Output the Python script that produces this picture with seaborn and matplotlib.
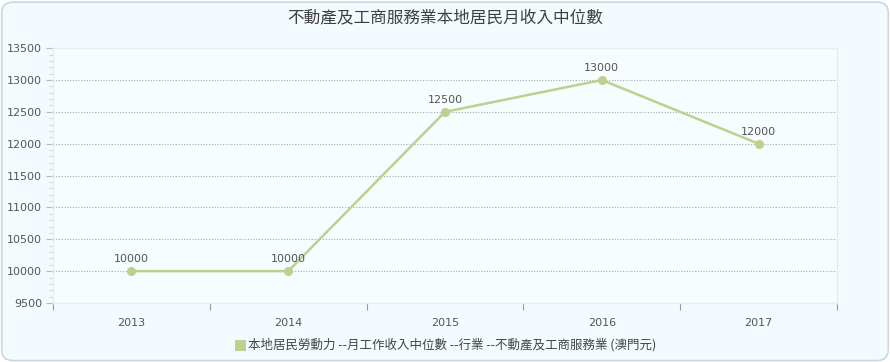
import matplotlib
matplotlib.use("Agg")
import matplotlib.pyplot as plt
from matplotlib.patches import FancyBboxPatch
from matplotlib.ticker import MultipleLocator, FixedLocator
import seaborn as sns
import pandas as pd

years = ["2013", "2014", "2015", "2016", "2017"]
median_income = [10000, 10000, 12500, 13000, 12000]
series_name = "本地居民勞動力 --月工作收入中位數 --行業 --不動產及工商服務業 (澳門元)"
title = "不動產及工商服務業本地居民月收入中位數"

df = pd.DataFrame({"year": years, "value": median_income})

sns.set_theme(style="white")
plt.rcParams["font.family"] = ["Noto Sans CJK TC", "DejaVu Sans"]

line_color = "#bcd18f"
text_color = "#555555"
bg = "#f4fbfe"
num_font = "DejaVu Sans"

fig = plt.figure(figsize=(8.9, 3.62), dpi=100)
fig.patch.set_facecolor("white")
fig.patches.append(FancyBboxPatch((0.002, 0.004), 0.996, 0.99, boxstyle="round,pad=0,rounding_size=0.012",
                                  transform=fig.transFigure, facecolor=bg, edgecolor="#cdd8de", linewidth=1.2,
                                  mutation_aspect=890 / 362, zorder=-10))
ax = fig.add_axes([0.0596, 0.163, 0.8808, 0.704])
ax.set_facecolor("#f7fcfe")

sns.lineplot(data=df, x="year", y="value", ax=ax, color=line_color, linewidth=1.8,
             marker="o", markersize=6.5, markeredgewidth=0, sort=False, zorder=3)

for i, v in enumerate(median_income):
    ax.annotate(f"{v}", (i, v), xytext=(0, 5), textcoords="offset points",
                ha="center", va="bottom", fontsize=8, color=text_color, family=num_font)

ax.set_xlim(-0.5, len(years) - 0.5)
ax.set_ylim(9500, 13500)
ax.yaxis.set_major_locator(MultipleLocator(500))
ax.yaxis.set_minor_locator(MultipleLocator(100))
ax.xaxis.set_major_locator(FixedLocator(range(len(years))))
ax.set_xticklabels(years)
ax.xaxis.set_minor_locator(FixedLocator([i - 0.5 for i in range(len(years) + 1)]))

for yv in range(10000, 13500, 500):
    ax.axhline(yv, color="#aaaaaa", linestyle=(0, (1, 1.5)), linewidth=0.8, zorder=1)

for s in ["left", "bottom", "top", "right"]:
    ax.spines[s].set_color("#e6ecef")
    ax.spines[s].set_linewidth(1.0)

ax.tick_params(axis="y", which="major", left=True, length=5, width=0.8, color="#bbbbbb",
               labelsize=8, labelcolor=text_color, pad=3)
ax.tick_params(axis="y", which="minor", left=True, length=3, width=0.6, color="#cccccc")
ax.tick_params(axis="x", which="major", bottom=False, labelsize=8, labelcolor=text_color, pad=5)
ax.tick_params(axis="x", which="minor", bottom=True, length=5, width=0.8, color="#999999")
for lbl in ax.get_xticklabels() + ax.get_yticklabels():
    lbl.set_family(num_font)
ax.set_xlabel("")
ax.set_ylabel("")

fig.text(0.5, 0.952, title, ha="center", va="center", fontsize=12, color="#3f3f3f")

fig.patches.append(plt.Rectangle((0.2635, 0.0305), 0.0125, 0.031, transform=fig.transFigure,
                                 facecolor=line_color, edgecolor="none"))
fig.text(0.2785, 0.047, series_name, ha="left", va="center", fontsize=9, color="#444444")

fig.savefig("out.png", dpi=100, facecolor=fig.get_facecolor())
